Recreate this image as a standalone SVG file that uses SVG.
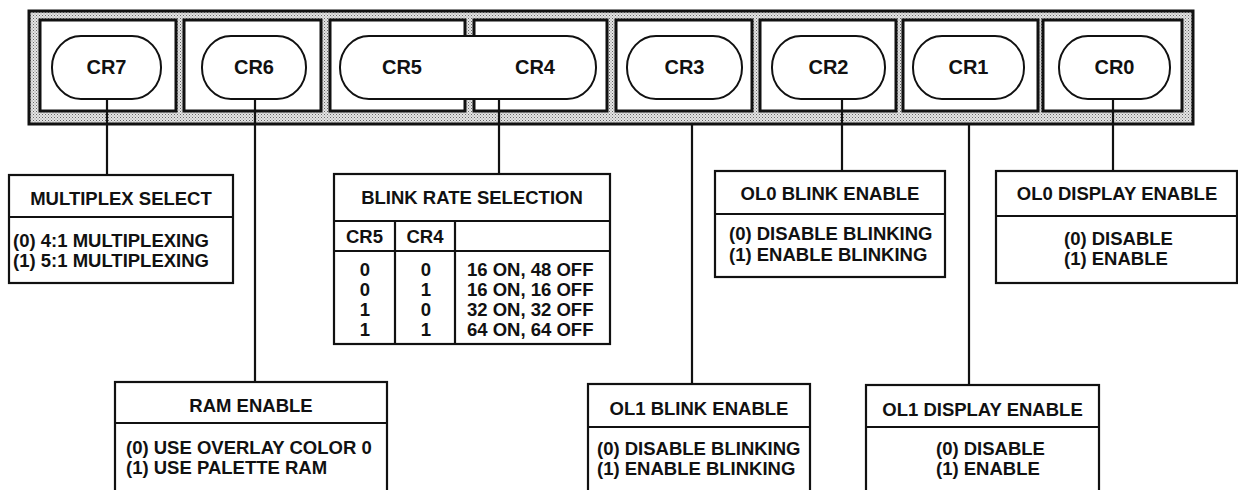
<svg xmlns="http://www.w3.org/2000/svg" width="1238" height="490" viewBox="0 0 1238 490">
<defs>
<pattern id="stip" width="3" height="3" patternUnits="userSpaceOnUse">
<rect width="3" height="3" fill="#e4e4e4"/>
<rect x="0" y="0" width="1" height="1" fill="#666"/>
<rect x="1.5" y="1.5" width="1" height="1" fill="#888"/>
</pattern>
<style>
text{font-family:"Liberation Sans",Arial,Helvetica,sans-serif;font-weight:bold;font-size:18.5px;fill:#111}
.cr{font-size:20px;text-anchor:middle}
.c{text-anchor:middle}
.frame{fill:url(#stip);stroke:#111;stroke-width:3}
.cell{fill:#fff;stroke:#111;stroke-width:3}
.pill{fill:#fff;stroke:#111;stroke-width:2}
.box{fill:#fff;stroke:#111;stroke-width:2.2}
.ln{stroke:#111;stroke-width:2.2;fill:none}
</style>
</defs>
<rect class="frame" x="29" y="11" width="1164" height="113"/>
<g id="reg-cells">
<rect class="cell" x="40" y="20" width="136" height="91"/>
<rect class="cell" x="184" y="20" width="137" height="91"/>
<rect class="cell" x="330" y="20" width="135" height="91"/>
<rect class="cell" x="474" y="20" width="133" height="91"/>
<rect class="cell" x="616" y="20" width="136" height="91"/>
<rect class="cell" x="760" y="20" width="136" height="91"/>
<rect class="cell" x="903" y="20" width="135" height="91"/>
<rect class="cell" x="1043" y="20" width="139" height="91"/>
</g>
<g id="connectors">
<line class="ln" x1="107" y1="99" x2="107" y2="175"/>
<line class="ln" x1="255" y1="99" x2="255" y2="382"/>
<line class="ln" x1="499" y1="99" x2="499" y2="174"/>
<line class="ln" x1="692" y1="124" x2="692" y2="384"/>
<line class="ln" x1="842" y1="99" x2="842" y2="171"/>
<line class="ln" x1="969" y1="124" x2="969" y2="385"/>
<line class="ln" x1="1113" y1="99" x2="1113" y2="171"/>
</g>
<g id="cr7"><rect class="pill" x="52" y="36" width="109" height="63" rx="29" ry="31"/><text class="cr" x="106.5" y="74">CR7</text></g>
<g id="cr6"><rect class="pill" x="202" y="36" width="104" height="63" rx="29" ry="31"/><text class="cr" x="254" y="74">CR6</text></g>
<g id="cr5-cr4"><rect class="pill" x="340" y="36" width="256" height="63" rx="29" ry="31"/><text class="cr" x="402" y="74">CR5</text><text class="cr" x="535" y="74">CR4</text></g>
<g id="cr3"><rect class="pill" x="627" y="36" width="115" height="63" rx="29" ry="31"/><text class="cr" x="684.5" y="74">CR3</text></g>
<g id="cr2"><rect class="pill" x="772" y="36" width="113" height="63" rx="29" ry="31"/><text class="cr" x="828.5" y="74">CR2</text></g>
<g id="cr1"><rect class="pill" x="913" y="36" width="111" height="63" rx="29" ry="31"/><text class="cr" x="968.5" y="74">CR1</text></g>
<g id="cr0"><rect class="pill" x="1059" y="36" width="111" height="63" rx="29" ry="31"/><text class="cr" x="1114.5" y="74">CR0</text></g>

<g id="multiplex-select">
<rect class="box" x="9" y="175" width="224" height="108"/>
<line class="ln" x1="9" y1="217" x2="233" y2="217"/>
<text class="c" x="121" y="204.5">MULTIPLEX SELECT</text>
<text x="13" y="246.8">(0) 4:1 MULTIPLEXING</text>
<text x="13" y="266.8">(1) 5:1 MULTIPLEXING</text>
</g>

<g id="blink-rate-selection">
<rect class="box" x="334" y="174" width="276" height="170"/>
<line class="ln" x1="334" y1="221" x2="610" y2="221"/>
<line class="ln" x1="334" y1="251" x2="610" y2="251"/>
<line class="ln" x1="395" y1="221" x2="395" y2="344"/>
<line class="ln" x1="455" y1="221" x2="455" y2="344"/>
<text class="c" x="472" y="203.6">BLINK RATE SELECTION</text>
<text class="c" x="364.5" y="243">CR5</text>
<text class="c" x="425" y="243">CR4</text>
<text class="c" x="365" y="275.8">0</text><text class="c" x="426" y="275.8">0</text><text x="467" y="275.8">16 ON, 48 OFF</text>
<text class="c" x="365" y="295.8">0</text><text class="c" x="426" y="295.8">1</text><text x="467" y="295.8">16 ON, 16 OFF</text>
<text class="c" x="365" y="315.8">1</text><text class="c" x="426" y="315.8">0</text><text x="467" y="315.8">32 ON, 32 OFF</text>
<text class="c" x="365" y="335.8">1</text><text class="c" x="426" y="335.8">1</text><text x="467" y="335.8">64 ON, 64 OFF</text>
</g>

<g id="ol0-blink-enable">
<rect class="box" x="715" y="171" width="230" height="106"/>
<line class="ln" x1="715" y1="214" x2="945" y2="214"/>
<text class="c" x="830" y="199.6">OL0 BLINK ENABLE</text>
<text x="729" y="239.8">(0) DISABLE BLINKING</text>
<text x="729" y="260.8">(1) ENABLE BLINKING</text>
</g>

<g id="ol0-display-enable">
<rect class="box" x="996" y="171" width="241" height="112"/>
<line class="ln" x1="996" y1="216" x2="1237" y2="216"/>
<text class="c" x="1117" y="199.6">OL0 DISPLAY ENABLE</text>
<text x="1064" y="245">(0) DISABLE</text>
<text x="1064" y="265">(1) ENABLE</text>
</g>

<g id="ram-enable">
<rect class="box" x="115" y="382" width="272" height="120"/>
<line class="ln" x1="115" y1="423" x2="387" y2="423"/>
<text class="c" x="251" y="411.6">RAM ENABLE</text>
<text x="126" y="453.8">(0) USE OVERLAY COLOR 0</text>
<text x="126" y="473.8">(1) USE PALETTE RAM</text>
</g>

<g id="ol1-blink-enable">
<rect class="box" x="588" y="384" width="222" height="118"/>
<line class="ln" x1="588" y1="427" x2="810" y2="427"/>
<text class="c" x="699" y="414.6">OL1 BLINK ENABLE</text>
<text x="597" y="454.8">(0) DISABLE BLINKING</text>
<text x="597" y="474.8">(1) ENABLE BLINKING</text>
</g>

<g id="ol1-display-enable">
<rect class="box" x="866" y="385" width="233" height="117"/>
<line class="ln" x1="866" y1="427" x2="1099" y2="427"/>
<text class="c" x="982.5" y="415.6">OL1 DISPLAY ENABLE</text>
<text x="936" y="454.8">(0) DISABLE</text>
<text x="936" y="474.8">(1) ENABLE</text>
</g>
</svg>
